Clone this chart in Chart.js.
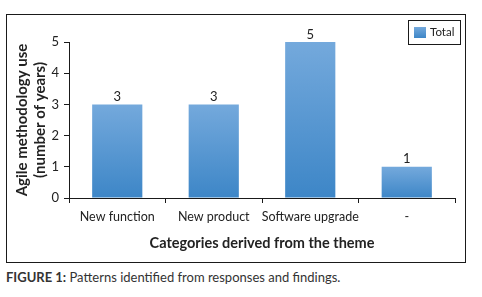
<!DOCTYPE html>
<html>
<head>
<meta charset="utf-8">
<script src="https://cdn.jsdelivr.net/npm/chart.js@4"></script>
<style>
  html, body { margin: 0; padding: 0; background: #fff; width: 482px; height: 297px; overflow: hidden; }
  #frame { position: absolute; left: 6px; top: 14px; width: 458px; height: 247px; border: 1px solid #1a1a1a; }
  #frame canvas { display: block; }
  #caption { position: absolute; left: 6px; top: 269px; font-family: Lato, "Open Sans", sans-serif; font-size: 13px; color: #333; white-space: nowrap; }
  #caption b { font-weight: bold; }
</style>
</head>
<body>
<div id="frame"><canvas id="c" width="458" height="247"></canvas></div>
<div id="caption"><b>FIGURE 1:</b> Patterns identified from responses and findings.</div>
<script>
const categories = ["New function", "New product", "Software upgrade", "-"];
const totalValues = [3, 3, 5, 1];
const seriesLabel = "Total";
const yTicks = [0, 1, 2, 3, 4, 5];
const xTitle = "Categories derived from the theme";
const yTitle = ["Agile methodology use", "(number of years)"];

const FONT = 'Lato, "Open Sans", sans-serif';
const TOP_COLOR = '#74a9dc';
const BOT_COLOR = '#3d86c7';

function barGradient(ctx) {
  const chart = ctx.chart;
  const ys = chart.scales && chart.scales.y;
  if (!chart.chartArea || !ys || ctx.type !== 'data') return '#5896d0';
  const top = ys.getPixelForValue(ctx.raw);
  const bottom = ys.getPixelForValue(0);
  const g = chart.ctx.createLinearGradient(0, top, 0, bottom);
  g.addColorStop(0, TOP_COLOR);
  g.addColorStop(1, BOT_COLOR);
  return g;
}

const valueLabels = {
  id: 'valueLabels',
  afterDatasetsDraw(chart) {
    const ctx = chart.ctx;
    const meta = chart.getDatasetMeta(0);
    ctx.save();
    ctx.font = '13px ' + FONT;
    ctx.fillStyle = '#222';
    ctx.textAlign = 'center';
    ctx.textBaseline = 'bottom';
    meta.data.forEach((bar, i) => {
      ctx.fillText(String(chart.data.datasets[0].data[i]), bar.x, bar.y - 1);
    });
    ctx.restore();
  }
};

const boxedLegend = {
  id: 'boxedLegend',
  afterDraw(chart) {
    const ctx = chart.ctx;
    const ds = chart.data.datasets[0];
    const bx = 401, by = 5, bw = 52, bh = 24;
    ctx.save();
    ctx.strokeStyle = '#1a1a1a';
    ctx.lineWidth = 1;
    ctx.strokeRect(bx + 0.5, by + 0.5, bw, bh);
    const g = ctx.createLinearGradient(0, by + 7, 0, by + 18);
    g.addColorStop(0, TOP_COLOR);
    g.addColorStop(1, BOT_COLOR);
    ctx.fillStyle = g;
    ctx.fillRect(bx + 6, by + 7, 12, 11);
    ctx.font = '11.5px ' + FONT;
    ctx.fillStyle = '#222';
    ctx.textAlign = 'left';
    ctx.textBaseline = 'middle';
    ctx.fillText(ds.label, bx + 22, by + 12.5);
    ctx.restore();
  }
};

new Chart(document.getElementById('c'), {
  type: 'bar',
  data: {
    labels: categories,
    datasets: [{
      label: seriesLabel,
      data: totalValues,
      backgroundColor: barGradient,
      borderWidth: 0,
      categoryPercentage: 1.0,
      barPercentage: 0.52
    }]
  },
  options: {
    responsive: false,
    animation: false,
    devicePixelRatio: 1,
    layout: { padding: { top: 27, right: 10, left: 0, bottom: 0 } },
    plugins: {
      legend: { display: false },
      tooltip: { enabled: false }
    },
    scales: {
      x: {
        afterFit(s) { s.height = 64; },
        grid: { display: true, offset: true, drawOnChartArea: false, drawTicks: true, tickLength: 5, color: '#1a1a1a', lineWidth: 1 },
        border: { display: true, color: '#1a1a1a', width: 1 },
        ticks: { font: { family: FONT, size: 12.5 }, color: '#222', padding: 6, maxRotation: 0, autoSkip: false },
        title: { display: true, text: xTitle, font: { family: FONT, size: 14.5, weight: 'bold', lineHeight: 1.2 }, color: '#222', padding: { top: 8, bottom: 10 } }
      },
      y: {
        min: 0, max: 5,
        afterFit(s) { s.width = 62; },
        afterBuildTicks(s) { s.ticks = yTicks.map(v => ({ value: v })); },
        grid: { display: true, drawOnChartArea: false, drawTicks: true, tickLength: 5, color: '#1a1a1a', lineWidth: 1 },
        border: { display: true, color: '#1a1a1a', width: 1 },
        ticks: { font: { family: FONT, size: 13 }, color: '#222', padding: 5 },
        title: { display: true, text: yTitle, font: { family: FONT, size: 15, weight: 'bold', lineHeight: 1.2 }, color: '#222', padding: { top: 6, bottom: 0 } }
      }
    }
  },
  plugins: [valueLabels, boxedLegend]
});
</script>
</body>
</html>
